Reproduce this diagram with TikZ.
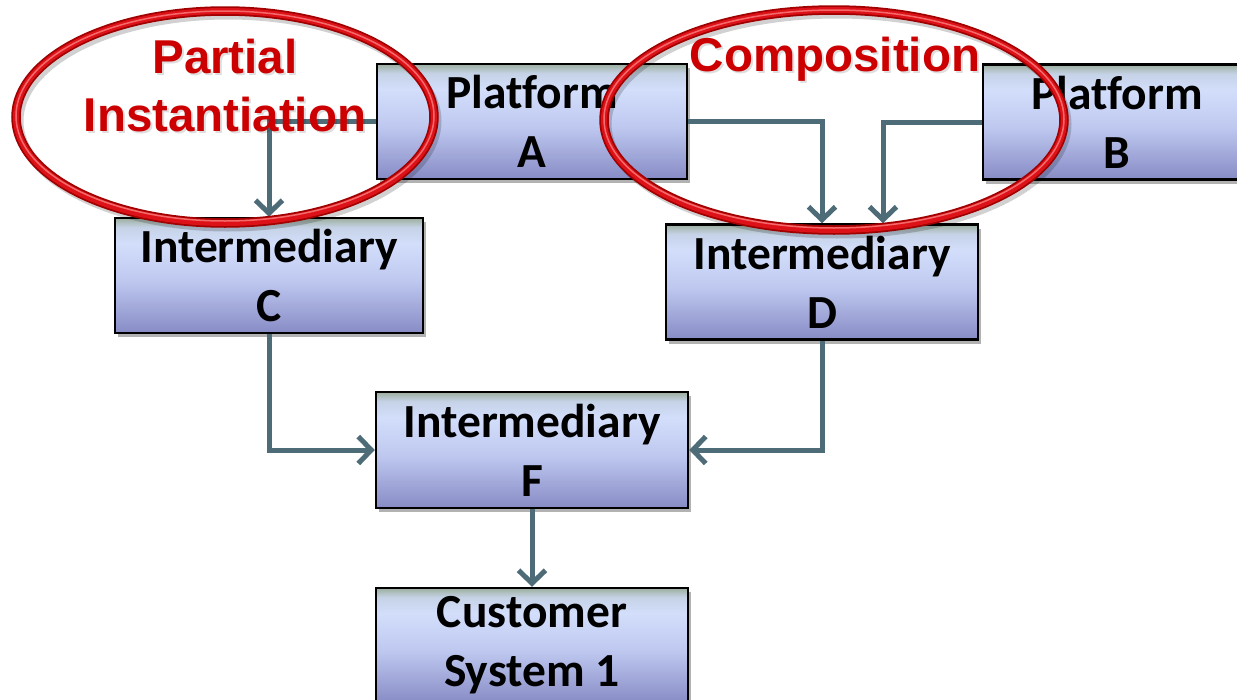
\documentclass[tikz,border=0pt]{standalone}
\usepackage{fontspec}
\setmainfont[Ligatures=NoCommon]{Carlito}
\newfontfamily\redfont{Liberation Sans}
\usetikzlibrary{arrows.meta,shadows}
\definecolor{arr}{HTML}{4E6B78}
\definecolor{ringdark}{HTML}{A00000}
\definecolor{ringmid}{HTML}{DD1219}
\definecolor{ringlight}{HTML}{F46A6A}
\definecolor{redtext}{HTML}{CC0000}
\definecolor{bbot}{HTML}{878BC5}
\definecolor{bmid}{HTML}{BFC9F0}
\definecolor{bhi}{HTML}{D3DEFB}
\definecolor{bhitwo}{HTML}{C5D2E6}
\definecolor{btop}{HTML}{9CAE9E}
\pgfdeclareverticalshading{boxshade}{100bp}{color(0bp)=(bbot); color(25bp)=(bbot); color(48bp)=(bmid); color(64bp)=(bhi); color(71bp)=(bhitwo); color(75bp)=(btop); color(100bp)=(btop)}
\tikzset{
  box/.style={draw=black, line width=2.5pt, shade, shading=boxshade,
    minimum width=310pt, minimum height=115pt, inner sep=0pt, align=center,
    font=\bfseries\fontsize{47.5}{59}\selectfont,
    drop shadow={shadow xshift=3pt, shadow yshift=-4pt, opacity=0.3, fill=black}},
  conn/.style={draw=arr, line width=5pt, -{Straight Barb[length=13pt,width=27pt]}},
  redlbl/.style={text=redtext, align=center, inner sep=0pt,
    font=\redfont\bfseries\fontsize{47.5}{58}\selectfont},
  redshadow/.style={text=black, opacity=0.13, align=center, inner sep=0pt,
    font=\redfont\bfseries\fontsize{47.5}{58}\selectfont},
  ringshadow/.style={draw=black, opacity=0.18, line width=9pt},
  ringouter/.style={draw=ringdark, line width=9.5pt},
  ringinner/.style={draw=ringmid, line width=6pt},
  ringhl/.style={draw=ringlight, line width=1.5pt},
}
\begin{document}
\begin{tikzpicture}[x=1pt,y=-1pt]
\useasboundingbox (0,0) rectangle (1237,699);
\clip (0,0) rectangle (1237,699);
% boxes
\node[box] (A) at (532,121.5) {Platform\\A};
\node[box, minimum width=268pt] (B) at (1117,122) {Platform\\B};
\node[box, minimum width=308pt] (C) at (269,275.5) {Intermediary\\C};
\node[box, minimum width=312pt] (D) at (822,282) {Intermediary\\D};
\node[box, minimum width=312pt, minimum height=116pt] (F) at (532,450) {Intermediary\\F};
\node[box, minimum width=312pt] (Cu) at (532,645.5) {Customer\\System 1};
% connectors
\draw[conn] (A.west) -| (C.north);
\draw[conn] (A.east) -| (D.north);
\draw[conn] (B.west) -| ([xshift=61pt]D.north);
\draw[conn] (C.south) |- (F.west);
\draw[conn] (D.south) |- (F.east);
\draw[conn] (F.south) -- (Cu.north);
% rings
\draw[ringshadow] (228,121) ellipse [x radius=209pt, y radius=106pt];
\draw[ringouter] (225,117) ellipse [x radius=209pt, y radius=106pt];
\draw[ringinner] (225,117) ellipse [x radius=209pt, y radius=106pt];
\draw[ringhl] (225,116) ellipse [x radius=209pt, y radius=105pt];
\draw[ringshadow] (837,124) ellipse [x radius=230pt, y radius=110pt];
\draw[ringouter] (834,120) ellipse [x radius=230pt, y radius=110pt];
\draw[ringinner] (834,120) ellipse [x radius=230pt, y radius=110pt];
\draw[ringhl] (834,119) ellipse [x radius=230pt, y radius=109pt];
% labels
\node[redshadow] (pis) at (227,88) {Partial\\Instantiation};
\node[redlbl] (pi) at (225,86) {Partial\\Instantiation};
\node[redshadow, anchor=base] (cps) at (837,73) {Composition};
\node[redlbl, anchor=base] (cp) at (835,71) {Composition};
\end{tikzpicture}
\end{document}
